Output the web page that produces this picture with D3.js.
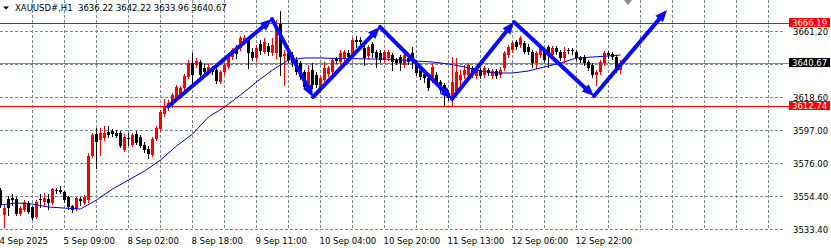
<!DOCTYPE html>
<html>
<head>
<meta charset="utf-8">
<script src="https://cdn.jsdelivr.net/npm/d3@7"></script>
<style>
html, body { margin: 0; padding: 0; background: #fff; }
svg { display: block; font-family: "DejaVu Sans", sans-serif; font-size: 8.5px; }
</style>
</head>
<body>
<div id="chart"></div>
<script>
// chart size
const W = 831, H = 248;

// header text
const title = "XAUUSD#,H1  3636.22 3642.22 3633.96 3640.67";

// H1 candles, one entry per bar
const open = [
  3558.6, 3542.4, 3552.8, 3553.4, 3552.8, 3543.1, 3545.6, 3550.2, 3547.6, 3541.1,
  3552.8, 3550.8, 3552.8, 3550.2, 3558.6, 3558.6, 3557.3, 3554.0, 3548.2, 3546.3,
  3552.8, 3550.2, 3552.1, 3580.5, 3594.7, 3590.8, 3592.1, 3596.0, 3596.6, 3595.4,
  3595.4, 3584.4, 3592.1, 3587.6, 3594.7, 3592.8, 3587.6, 3585.0, 3581.2, 3591.5,
  3597.9, 3607.6, 3611.5, 3613.4, 3617.9, 3619.2, 3624.4, 3631.5, 3640.5, 3639.2,
  3641.2, 3637.3, 3634.7, 3637.3, 3636.0, 3628.3, 3634.7, 3638.0, 3644.4, 3648.9,
  3650.2, 3654.1, 3655.4, 3647.6, 3643.8, 3652.8, 3647.6, 3651.5, 3647.0, 3647.0,
  3665.7, 3645.1, 3647.0, 3645.7, 3642.5, 3640.5, 3634.7, 3626.3, 3636.0, 3632.8,
  3624.4, 3629.6, 3633.4, 3634.7, 3643.1, 3641.2, 3643.8, 3647.0, 3645.7, 3655.4,
  3655.4, 3650.2, 3645.1, 3652.8, 3647.6, 3647.0, 3642.5, 3643.8, 3645.7, 3642.5,
  3644.4, 3639.2, 3643.8, 3647.0, 3640.5, 3636.0, 3633.4, 3630.9, 3629.6, 3632.8,
  3628.3, 3626.3, 3621.2, 3616.7, 3621.8, 3629.6, 3632.8, 3632.8, 3637.3, 3632.1,
  3636.0, 3632.8, 3636.0, 3632.1, 3635.4, 3632.8, 3637.3, 3645.7, 3648.9, 3654.1,
  3652.2, 3653.4, 3650.9, 3647.6, 3640.5, 3645.7, 3648.9, 3650.9, 3645.7, 3650.2,
  3647.6, 3643.8, 3648.9, 3648.9, 3647.6, 3643.8, 3644.4, 3641.2, 3639.2, 3632.8,
  3634.7, 3640.5, 3647.0, 3646.3, 3644.4, 3636.22
];
const high = [
  3559.9, 3548.9, 3554.7, 3556.0, 3554.0, 3548.2, 3552.1, 3551.5, 3548.2, 3552.1,
  3556.0, 3556.6, 3556.0, 3559.9, 3559.9, 3561.1, 3557.9, 3554.7, 3548.9, 3554.0,
  3554.0, 3555.3, 3582.4, 3595.4, 3598.6, 3598.6, 3599.9, 3599.9, 3597.9, 3597.3,
  3596.6, 3594.7, 3595.4, 3595.4, 3596.6, 3594.1, 3589.5, 3587.0, 3592.8, 3599.9,
  3610.2, 3617.3, 3616.7, 3621.2, 3626.3, 3625.7, 3633.4, 3642.5, 3647.0, 3643.8,
  3642.5, 3639.9, 3639.9, 3638.6, 3637.3, 3636.0, 3640.5, 3647.0, 3650.2, 3652.2,
  3658.0, 3658.6, 3657.3, 3650.2, 3652.2, 3655.4, 3656.7, 3653.4, 3656.7, 3668.3,
  3674.1, 3648.9, 3648.9, 3647.6, 3644.4, 3641.8, 3636.0, 3639.2, 3640.5, 3634.7,
  3632.8, 3641.2, 3638.6, 3643.8, 3644.4, 3648.9, 3648.9, 3648.9, 3656.7, 3658.0,
  3657.3, 3652.2, 3652.2, 3654.1, 3648.9, 3648.9, 3648.9, 3648.9, 3647.0, 3643.8,
  3645.7, 3647.0, 3645.1, 3650.9, 3642.5, 3637.3, 3634.7, 3632.1, 3640.5, 3634.7,
  3629.6, 3627.6, 3623.1, 3644.4, 3643.8, 3636.0, 3639.2, 3640.5, 3638.6, 3636.7,
  3637.3, 3638.6, 3637.3, 3636.7, 3636.7, 3638.0, 3648.3, 3652.2, 3654.7, 3655.4,
  3658.0, 3654.7, 3652.8, 3648.9, 3648.3, 3652.8, 3650.2, 3652.2, 3651.5, 3651.5,
  3648.9, 3650.9, 3650.2, 3650.2, 3648.9, 3645.1, 3645.7, 3642.5, 3640.5, 3636.0,
  3642.5, 3648.3, 3648.3, 3647.6, 3645.7, 3642.22
];
const low = [
  3547.6, 3534.7, 3542.4, 3548.9, 3542.4, 3542.4, 3545.0, 3543.7, 3539.8, 3540.5,
  3547.6, 3548.2, 3546.3, 3549.5, 3556.6, 3556.6, 3550.8, 3546.3, 3544.4, 3545.6,
  3548.9, 3549.5, 3550.8, 3579.9, 3572.8, 3581.2, 3590.8, 3592.8, 3593.4, 3592.8,
  3586.3, 3583.7, 3587.6, 3587.0, 3588.3, 3586.3, 3583.1, 3579.2, 3580.5, 3590.8,
  3597.3, 3606.3, 3610.2, 3612.1, 3616.7, 3617.9, 3623.1, 3630.9, 3627.6, 3638.0,
  3632.1, 3632.8, 3633.4, 3633.4, 3627.6, 3627.6, 3633.4, 3637.3, 3643.1, 3643.8,
  3648.9, 3652.8, 3637.3, 3642.5, 3642.5, 3646.3, 3647.0, 3645.7, 3645.7, 3643.8,
  3632.8, 3626.3, 3641.2, 3638.6, 3633.4, 3630.2, 3623.8, 3625.0, 3624.4, 3625.0,
  3623.1, 3628.3, 3632.1, 3633.4, 3640.5, 3639.9, 3642.5, 3642.5, 3644.4, 3650.9,
  3652.2, 3639.2, 3643.8, 3644.4, 3638.0, 3641.2, 3641.2, 3642.5, 3636.0, 3639.9,
  3636.0, 3638.0, 3639.9, 3637.3, 3632.8, 3630.2, 3628.3, 3623.1, 3628.3, 3626.3,
  3621.8, 3613.4, 3616.7, 3613.4, 3619.9, 3626.3, 3630.9, 3631.5, 3631.5, 3630.9,
  3630.9, 3631.5, 3632.8, 3630.9, 3630.9, 3631.5, 3636.0, 3644.4, 3647.6, 3649.6,
  3650.9, 3647.0, 3646.3, 3638.0, 3637.3, 3644.4, 3641.2, 3638.0, 3644.4, 3646.3,
  3642.5, 3641.2, 3647.0, 3646.3, 3642.5, 3641.2, 3639.2, 3636.0, 3631.5, 3626.3,
  3633.4, 3639.2, 3643.8, 3643.1, 3634.7, 3633.96
];
const close = [
  3548.9, 3546.9, 3546.9, 3552.1, 3543.1, 3546.9, 3550.8, 3544.4, 3540.5, 3550.8,
  3552.1, 3553.4, 3550.2, 3559.2, 3557.9, 3557.3, 3552.1, 3547.6, 3545.6, 3553.4,
  3551.5, 3554.0, 3580.5, 3594.1, 3589.5, 3595.4, 3595.4, 3594.1, 3594.7, 3593.4,
  3587.0, 3592.8, 3591.5, 3594.1, 3588.9, 3587.0, 3584.4, 3581.8, 3591.5, 3598.6,
  3608.9, 3612.1, 3614.7, 3619.9, 3625.0, 3624.4, 3632.1, 3640.5, 3632.8, 3641.8,
  3632.8, 3634.7, 3638.0, 3634.7, 3628.9, 3634.7, 3639.2, 3645.7, 3648.9, 3646.3,
  3656.7, 3656.7, 3647.0, 3643.8, 3650.2, 3648.3, 3654.1, 3647.6, 3652.2, 3663.1,
  3644.4, 3646.3, 3642.5, 3640.5, 3634.7, 3631.5, 3625.0, 3634.7, 3626.3, 3626.3,
  3630.9, 3637.3, 3637.3, 3642.5, 3641.8, 3647.0, 3647.6, 3644.4, 3655.4, 3654.1,
  3654.1, 3643.8, 3650.9, 3647.0, 3643.8, 3642.5, 3647.6, 3647.6, 3641.2, 3640.5,
  3640.5, 3645.7, 3641.2, 3643.8, 3634.1, 3631.5, 3630.9, 3624.4, 3638.0, 3627.6,
  3623.1, 3619.9, 3617.9, 3628.3, 3634.7, 3632.8, 3636.0, 3639.2, 3632.8, 3635.4,
  3632.1, 3637.3, 3634.1, 3635.4, 3632.1, 3636.0, 3647.0, 3650.9, 3653.4, 3650.9,
  3656.7, 3647.6, 3647.6, 3640.5, 3647.0, 3650.9, 3642.5, 3647.0, 3650.2, 3647.6,
  3643.8, 3647.6, 3648.3, 3648.3, 3643.8, 3642.5, 3640.5, 3637.3, 3632.8, 3634.7,
  3641.2, 3647.0, 3645.7, 3644.4, 3636.2, 3640.67
];

// moving average, read every 4 bars
const maIndex = [0, 4, 8, 12, 16, 20, 24, 28, 32, 36, 40, 44, 48, 52, 56, 60, 64, 68, 72, 76,
  80, 84, 88, 92, 96, 100, 104, 108, 112, 116, 120, 124, 128, 132, 136, 140, 144, 148, 152, 155];
const maValue = [3548.9, 3550.2, 3549.5, 3547.6, 3546.9, 3546.3, 3552.1, 3559.2, 3565.0, 3570.8,
  3577.9, 3587.0, 3594.7, 3605.7, 3612.1, 3619.9, 3628.3, 3636.0, 3642.5, 3643.8,
  3643.8, 3643.4, 3643.4, 3643.1, 3643.1, 3642.5, 3641.8, 3641.2, 3639.9, 3638.0,
  3635.4, 3634.1, 3634.1, 3635.4, 3638.0, 3640.5, 3643.8, 3644.4, 3645.1, 3645.7];

// time axis
const timeTickIndex = [0, 16, 32, 48, 64, 80, 96, 112, 128, 144];
const timeTickLabel = ["4 Sep 2025", "5 Sep 09:00", "8 Sep 02:00", "8 Sep 18:00", "9 Sep 11:00",
  "10 Sep 04:00", "10 Sep 20:00", "11 Sep 13:00", "12 Sep 06:00", "12 Sep 22:00"];

// price axis: grid levels, and the ones with a visible label
const priceGrid = [3661.20, 3639.90, 3618.60, 3597.00, 3576.00, 3554.40, 3533.40];
const priceLabels = [3661.20, 3618.60, 3597.00, 3576.00, 3554.40, 3533.40];
const redLevels = [3666.19, 3612.74];
const bid = 3640.67;

// hand drawn zigzag (bar index, price)
const waveIndex = [42, 68, 78.25, 95, 113, 128.5, 148.5, 166.75];
const wavePrice = [3612.5, 3668.9, 3618.6, 3663.8, 3617.3, 3667.0, 3619.2, 3674.8];

const shiftIndex = 157; // chart shift marker

const svg = d3.select("#chart").append("svg")
  .attr("width", W)
  .attr("height", H);

const x = d3.scaleLinear().domain([0, 192]).range([0, 768]);
const y = d3.scaleLinear().domain([3533.4, 3661.2]).range([229, 31]);
const py = v => Math.round(y(v)) + 0.5;

const gridColor = "#778899";

// grid
svg.append("g")
  .selectAll("line")
  .data(priceGrid)
  .join("line")
  .attr("x1", 0)
  .attr("x2", 784)
  .attr("y1", d => py(d))
  .attr("y2", d => py(d))
  .attr("stroke", gridColor)
  .attr("stroke-dasharray", "3,2")
  .attr("shape-rendering", "crispEdges");

svg.append("g")
  .selectAll("line")
  .data(d3.range(8, 193, 8))
  .join("line")
  .attr("x1", d => x(d) + 0.5)
  .attr("x2", d => x(d) + 0.5)
  .attr("y1", 0)
  .attr("y2", 230)
  .attr("stroke", gridColor)
  .attr("stroke-dasharray", "3,2")
  .attr("shape-rendering", "crispEdges");

// price axis labels
const yAxis = svg.append("g")
  .attr("transform", "translate(790,0.5)")
  .call(d3.axisRight(y).tickValues(priceLabels).tickFormat(d3.format(".2f")).tickSize(0).tickPadding(3));
yAxis.select(".domain").remove();
yAxis.selectAll("text")
  .attr("fill", "#000")
  .style("font-family", "DejaVu Sans")
  .style("font-size", "8.5px");

// time axis labels
const xAxis = svg.append("g")
  .attr("transform", "translate(0,235)")
  .call(d3.axisBottom(x).tickValues(timeTickIndex)
    .tickFormat((d, i) => timeTickLabel[i]).tickSize(0).tickPadding(3));
xAxis.select(".domain").remove();
xAxis.selectAll("text")
  .attr("fill", "#000")
  .attr("text-anchor", "start")
  .attr("dx", -1)
  .style("font-family", "DejaVu Sans")
  .style("font-size", "8.5px");

// red levels
svg.append("g")
  .selectAll("line")
  .data(redLevels)
  .join("line")
  .attr("x1", 0)
  .attr("x2", 789)
  .attr("y1", d => py(d))
  .attr("y2", d => py(d))
  .attr("stroke", "#ff0000")
  .attr("shape-rendering", "crispEdges");

// bid line
svg.append("line")
  .attr("x1", 0)
  .attr("x2", 789)
  .attr("y1", py(bid))
  .attr("y2", py(bid))
  .attr("stroke", gridColor)
  .attr("shape-rendering", "crispEdges");

// candles
const n = d3.min([open.length, high.length, low.length, close.length]);
const bars = d3.range(n).map(i => ({ i, o: open[i], h: high[i], l: low[i], c: close[i] }));
const candleColor = d => (d.c >= d.o ? "#ff0000" : "#000000");

const cg = svg.append("g").attr("shape-rendering", "crispEdges");
cg.selectAll("line")
  .data(bars)
  .join("line")
  .attr("x1", d => x(d.i) + 0.5)
  .attr("x2", d => x(d.i) + 0.5)
  .attr("y1", d => Math.round(y(d.h)))
  .attr("y2", d => Math.round(y(d.l)) + 1)
  .attr("stroke", candleColor);

cg.selectAll("rect")
  .data(bars)
  .join("rect")
  .attr("x", d => x(d.i) - 1)
  .attr("width", 3)
  .attr("y", d => Math.round(y(Math.max(d.o, d.c))))
  .attr("height", d => Math.max(1, Math.round(y(Math.min(d.o, d.c))) - Math.round(y(Math.max(d.o, d.c)))))
  .attr("fill", candleColor);

// moving average
svg.append("path")
  .datum(d3.range(maIndex.length))
  .attr("fill", "none")
  .attr("stroke", "#0000c8")
  .attr("stroke-width", 1)
  .attr("d", d3.line().x(k => x(maIndex[k]) + 0.5).y(k => y(maValue[k])));

// zigzag arrows
const blue = "#0a0aff";
const wg = svg.append("g");
for (let k = 0; k < waveIndex.length - 1; k++) {
  const x1 = x(waveIndex[k]), y1 = y(wavePrice[k]);
  const x2 = x(waveIndex[k + 1]), y2 = y(wavePrice[k + 1]);
  const a = Math.atan2(y2 - y1, x2 - x1);
  const len = 12, half = 5;
  const bx = x2 - len * Math.cos(a), by = y2 - len * Math.sin(a);
  wg.append("line")
    .attr("x1", x1).attr("y1", y1)
    .attr("x2", bx).attr("y2", by)
    .attr("stroke", blue)
    .attr("stroke-width", 4)
    .attr("stroke-linecap", "round");
  wg.append("path")
    .attr("d", `M${x2},${y2}L${bx + half * Math.sin(a)},${by - half * Math.cos(a)}L${bx - half * Math.sin(a)},${by + half * Math.cos(a)}Z`)
    .attr("fill", blue);
}

// price labels on the scale
const tags = redLevels.map(v => ({ v, bg: "#ff0000" })).concat([{ v: bid, bg: "#000000" }]);
const tg = svg.append("g");
tg.selectAll("rect")
  .data(tags)
  .join("rect")
  .attr("x", 789)
  .attr("y", d => Math.round(y(d.v)) - 5)
  .attr("width", 41)
  .attr("height", 9)
  .attr("fill", d => d.bg)
  .attr("shape-rendering", "crispEdges");
tg.selectAll("text")
  .data(tags)
  .join("text")
  .attr("x", 792)
  .attr("y", d => Math.round(y(d.v)) + 3)
  .attr("fill", "#fff")
  .text(d => d.v.toFixed(2));

// chart shift marker
const sx = x(shiftIndex);
svg.append("path")
  .attr("d", `M${sx - 4},0L${sx + 4},0L${sx},5Z`)
  .attr("fill", "#8c8c8c");

// header
svg.append("path")
  .attr("d", "M3,6.5L9,6.5L6,9.5Z")
  .attr("fill", "#000");
svg.append("text")
  .attr("x", 15)
  .attr("y", 11)
  .attr("fill", "#000")
  .style("white-space", "pre")
  .text(title);
</script>
</body>
</html>
